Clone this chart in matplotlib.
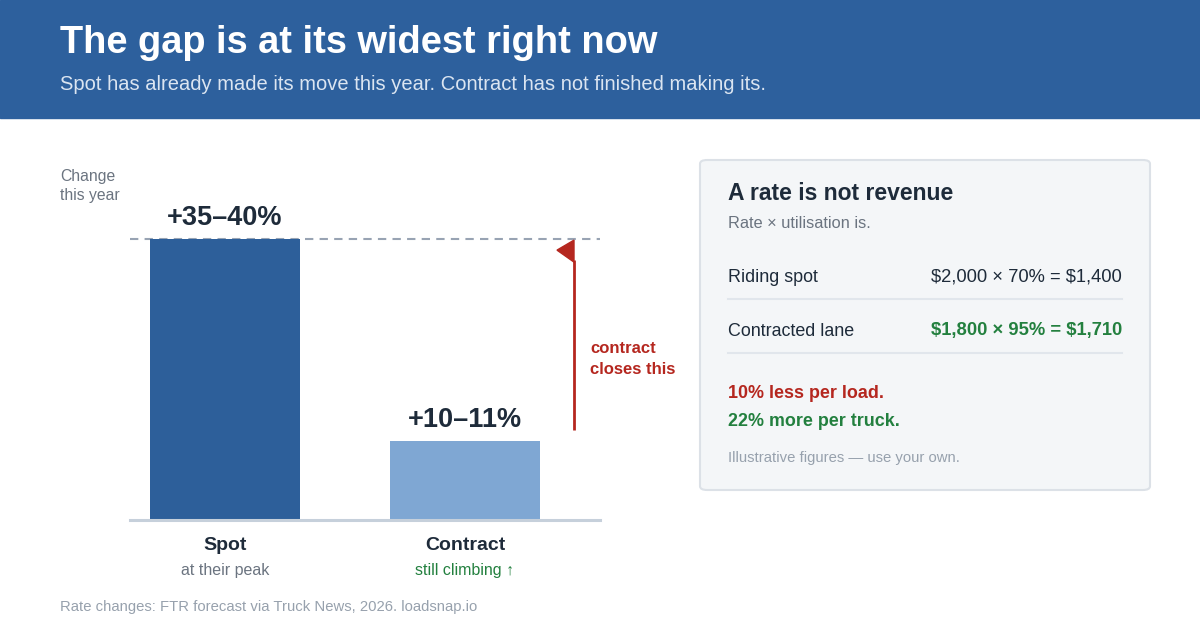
import matplotlib
matplotlib.use("Agg")
import matplotlib.pyplot as plt
from matplotlib.patches import Rectangle, FancyBboxPatch, Polygon

plt.rcParams['font.family'] = ['Liberation Sans', 'DejaVu Sans']
plt.rcParams['text.parse_math'] = False

# --- data ---
categories = ["Spot", "Contract"]
sublabels = ["at their peak", "still climbing \u2191"]
value_labels = ["+35\u201340%", "+10\u201311%"]
values = [37.5, 10.5]          # midpoints of the quoted ranges

card_rows = ["Riding spot", "Contracted lane"]
card_calc = ["$2,000 \u00d7 70% = $1,400", "$1,800 \u00d7 95% = $1,710"]

# --- colours ---
HEADER = "#2d609d"
SPOT = "#2d5f9a"
CONTRACT = "#7fa7d3"
DARK = "#1e2b3a"
GREY = "#6b7480"
LIGHT = "#97a1ad"
RED = "#b5271f"
GREEN = "#23803f"

W, H = 1200, 630
fig = plt.figure(figsize=(12, 6.3), dpi=100)


def fx(px):
    return px / W


def fy(py):
    return 1 - py / H


# header band
fig.patches.append(Rectangle((0, fy(118)), 1, 118 / H, transform=fig.transFigure,
                             color=HEADER, zorder=0))
fig.text(fx(60), fy(43), "The gap is at its widest right now", color="white",
         fontsize=27.4, fontweight="bold", va="center")
fig.text(fx(60), fy(84), "Spot has already made its move this year. Contract has not finished making its.",
         color="#dbe5f1", fontsize=14.5, va="center")

# --- bar chart ---
px_per_unit = 240.0
ax = fig.add_axes([fx(130), fy(520), 470 / W, 390 / H])
ax.set_xlim(-95 / px_per_unit, 1 + 135 / px_per_unit)
ax.set_ylim(0, 390 / 7.49)
ax.axis("off")

x = list(range(len(categories)))
ax.bar(x, values, width=150 / px_per_unit, color=[SPOT, CONTRACT], zorder=2)
ax.axhline(values[0], color="#98a3b3", lw=1.5, ls=(0, (4, 3)), zorder=1)
ax.axhline(0, color="#c6d0db", lw=2.2, zorder=3, clip_on=False)

for xi, v, lab in zip(x, values, value_labels):
    ax.annotate(lab, (xi, v), xytext=(0, 6), textcoords="offset points",
                ha="center", va="bottom", fontsize=19.5, fontweight="bold", color=DARK)

for xi, cat, sub, c in zip(x, categories, sublabels, [GREY, GREEN]):
    ax.annotate(cat, (xi, 0), xytext=(0, -12), textcoords="offset points",
                ha="center", va="top", fontsize=14, fontweight="bold", color=DARK)
    ax.annotate(sub, (xi, 0), xytext=(0, -31), textcoords="offset points",
                ha="center", va="top", fontsize=11.5, color=c)

# gap arrow
ax_x = 1 + 109 / px_per_unit
y0 = values[1] + 11 / 7.49
y_top = values[0] - 1 / 7.49
ax.plot([ax_x, ax_x], [y0, y_top - 20 / 7.49], color=RED, lw=2, zorder=4,
        solid_capstyle="butt")
tri = Polygon([(ax_x, y_top), (ax_x - 17 / px_per_unit, y_top - 10 / 7.49),
               (ax_x, y_top - 22 / 7.49)], closed=True, color=RED, zorder=4)
ax.add_patch(tri)
ax.text(ax_x + 16 / px_per_unit, (values[0] + values[1]) / 2 - 2.5,
        "contract\ncloses this", color=RED, fontsize=12, fontweight="bold",
        ha="left", va="center", linespacing=1.55)

fig.text(fx(60), fy(186), "Change\nthis year", color=GREY, fontsize=11.3,
         va="center", linespacing=1.4)

fig.text(fx(60), fy(607), "Rate changes: FTR forecast via Truck News, 2026. loadsnap.io",
         color=LIGHT, fontsize=10.7, va="center")

# --- side card ---
card = FancyBboxPatch((fx(700), fy(490)), fx(450), 330 / H,
                      boxstyle="round,pad=0,rounding_size=0.006",
                      transform=fig.transFigure, facecolor="#f4f6f8",
                      edgecolor="#dce1e7", lw=1.5, zorder=0)
fig.patches.append(card)

fig.text(fx(728), fy(194), "A rate is not revenue", color=DARK, fontsize=16.5,
         fontweight="bold", va="center")
fig.text(fx(728), fy(223), "Rate \u00d7 utilisation is.", color=GREY, fontsize=11.8,
         va="center")

row_y = [277, 331]
for ry, name, calc, bold, c in zip(row_y, card_rows, card_calc,
                                   ["normal", "bold"], [DARK, GREEN]):
    fig.text(fx(728), fy(ry), name, color=DARK, fontsize=12.9, va="center")
    fig.text(fx(1122), fy(ry), calc, color=c, fontsize=13.2, fontweight=bold,
             va="center", ha="right")
    fig.add_artist(plt.Line2D([fx(728), fx(1122)], [fy(ry + 22), fy(ry + 22)],
                              color="#e1e6ec", lw=1.5, transform=fig.transFigure))

fig.text(fx(728), fy(393), "10% less per load.", color=RED, fontsize=12.9,
         fontweight="bold", va="center")
fig.text(fx(728), fy(421), "22% more per truck.", color=GREEN, fontsize=12.9,
         fontweight="bold", va="center")
fig.text(fx(728), fy(458), "Illustrative figures \u2014 use your own.", color=LIGHT,
         fontsize=10.7, va="center")

fig.savefig("out.png", dpi=100, facecolor="white")
